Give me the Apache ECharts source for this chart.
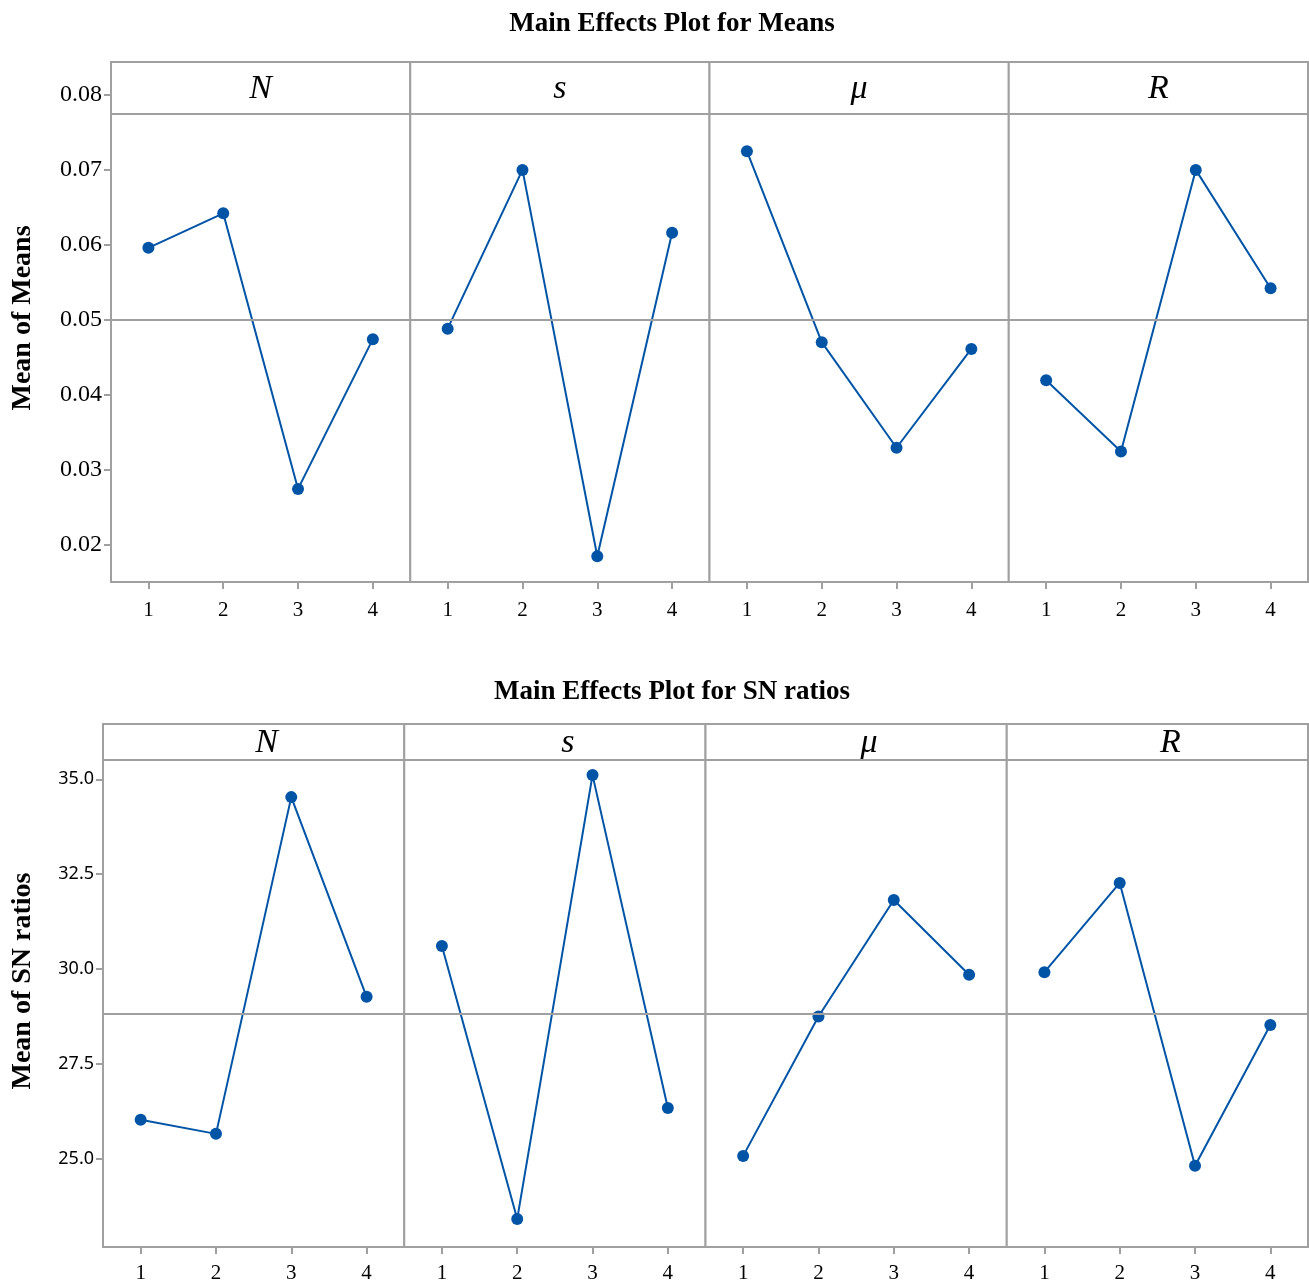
<!DOCTYPE html>
<html>
<head>
<meta charset="utf-8">
<script src="https://cdn.jsdelivr.net/npm/echarts@6/dist/echarts.min.js"></script>
<style>
  html, body { margin: 0; padding: 0; background: #fff; }
  #main { width: 1309px; height: 1286px; }
</style>
</head>
<body>
<div id="main"></div>
<script>
// factors and levels
var factors = ['N', 's', 'μ', 'R'];
var levels = ['1', '2', '3', '4'];

// main effects for means
var meansN  = [0.0596, 0.0642, 0.0274, 0.0474];
var meansS  = [0.0488, 0.0700, 0.0184, 0.0616];
var meansMu = [0.0725, 0.0470, 0.0329, 0.0461];
var meansR  = [0.0419, 0.0324, 0.0700, 0.0542];
var meansOverall = 0.0493;   // reference line as drawn
var meanTicks = [0.02, 0.03, 0.04, 0.05, 0.06, 0.07, 0.08];

// main effects for SN ratios
var snN  = [26.03, 25.66, 34.53, 29.27];
var snS  = [30.61, 23.42, 35.11, 26.34];
var snMu = [25.08, 28.75, 31.82, 29.85];
var snR  = [29.92, 32.27, 24.82, 28.53];
var snOverall = 28.82;
var snTicks = [25.0, 27.5, 30.0, 32.5, 35.0];

var lineColor = '#0054a6';
var frameColor = '#a0a0a0';
var serif = '"Liberation Serif", "DejaVu Serif", serif';

// layout of the two panels
var rows = [
  { title: 'Main Effects Plot for Means', yName: 'Mean of Means',
    data: [meansN, meansS, meansMu, meansR], ticks: meanTicks, overall: meansOverall,
    min: 0.01497, max: 0.08441, digits: 2, labelFont: serif, labelSize: 24,
    left: 111, right: 1308, top: 62, bottom: 582, header: 52, headerShift: 0,
    titleY: 24, nameY: 318, labelMargin: 18 },
  { title: 'Main Effects Plot for SN ratios', yName: 'Mean of SN ratios',
    data: [snN, snS, snMu, snR], ticks: snTicks, overall: snOverall,
    min: 22.68, max: 36.456, digits: 1, labelFont: '"Noto Sans", sans-serif', labelSize: 18,
    left: 103, right: 1308, top: 724, bottom: 1247, header: 36, headerShift: 13,
    titleY: 692, nameY: 981, labelMargin: 16 }
];

var grids = [], xAxes = [], yAxes = [], series = [], graphics = [];

rows.forEach(function (row, r) {
  var w = (row.right - row.left) / 4;
  graphics.push({
    type: 'text', x: 672, y: row.titleY,
    style: { text: row.title, font: 'bold 27px ' + serif, fill: '#000',
      textAlign: 'center', textVerticalAlign: 'middle' }
  });
  graphics.push({
    type: 'text', x: 23, y: row.nameY, rotation: Math.PI / 2,
    style: { text: row.yName, font: 'bold 28px ' + serif, fill: '#000',
      textAlign: 'center', textVerticalAlign: 'middle' }
  });
  factors.forEach(function (f, i) {
    var idx = grids.length;
    var gl = row.left + w * i;
    grids.push({
      left: gl, top: row.top, width: w, height: row.bottom - row.top,
      show: true, borderColor: frameColor, borderWidth: 2, backgroundColor: '#fff'
    });
    xAxes.push({
      type: 'category', gridIndex: idx, data: levels, boundaryGap: true,
      axisLine: { show: false },
      axisTick: { show: true, alignWithLabel: true, length: 7, lineStyle: { color: frameColor, width: 2 } },
      axisLabel: { fontFamily: serif, fontSize: 21, color: '#000', margin: row.labelMargin },
      splitLine: { show: false }
    });
    yAxes.push({
      type: 'value', gridIndex: idx, min: row.min, max: row.max,
      axisLine: { show: false },
      axisTick: { show: i === 0, length: 7, lineStyle: { color: frameColor, width: 2 },
        customValues: row.ticks },
      axisLabel: { show: i === 0, fontFamily: row.labelFont, fontSize: row.labelSize, color: '#000',
        margin: 9, customValues: row.ticks,
        formatter: function (v) { return v.toFixed(row.digits); } },
      splitLine: { show: false }
    });
    series.push({
      type: 'line', xAxisIndex: idx, yAxisIndex: idx, data: row.data[i],
      symbol: 'circle', symbolSize: 12,
      lineStyle: { color: lineColor, width: 2 },
      itemStyle: { color: lineColor },
      z: 3,
      markLine: {
        silent: true, symbol: 'none', label: { show: false },
        lineStyle: { color: frameColor, width: 2, type: 'solid' },
        data: [{ yAxis: row.overall }]
      }
    });
    // header strip under the facet label
    graphics.push({
      type: 'line', z: 10,
      shape: { x1: gl, y1: row.top + row.header, x2: gl + w, y2: row.top + row.header },
      style: { stroke: frameColor, lineWidth: 2 }
    });
    graphics.push({
      type: 'text', z: 10, x: gl + w / 2 + row.headerShift, y: row.top + row.header / 2 + 1,
      style: { text: f, font: 'italic 34px ' + serif, fill: '#000',
        textAlign: 'center', textVerticalAlign: 'middle' }
    });
  });
});

var chart = echarts.init(document.getElementById('main'));
chart.setOption({
  backgroundColor: '#fff',
  animation: false,
  grid: grids,
  xAxis: xAxes,
  yAxis: yAxes,
  series: series,
  graphic: graphics
});
</script>
</body>
</html>
